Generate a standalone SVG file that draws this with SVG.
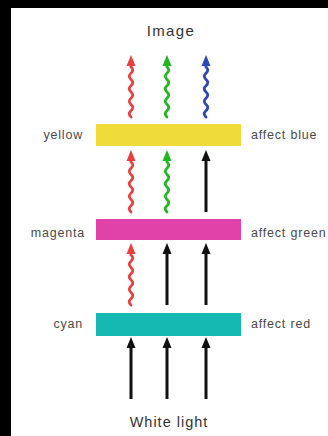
<svg xmlns="http://www.w3.org/2000/svg" xmlns:xlink="http://www.w3.org/1999/xlink" width="328" height="436" viewBox="0 0 328 436">
<style>
.lbl{font-family:"Liberation Sans",Arial,sans-serif;font-size:12.5px;fill:#4a4a4a;letter-spacing:0.8px}
.ttl{font-family:"Liberation Sans",Arial,sans-serif;font-size:15px;fill:#333;letter-spacing:1.4px}
.red{color:#e8403f}.green{color:#1fb81f}.blue{color:#2a46b8}.black{color:#111}
</style>
<defs>
<g id="wave">
<path d="M0,9 l0,3 q3.5,3.1 0,6.25 q-3.5,3.1 0,6.25 q3.5,3.1 0,6.25 q-3.5,3.1 0,6.25 q3.5,3.1 0,6.25 q-3.5,3.1 0,6.25 q3.5,3.1 0,6.25 q-3.5,3.1 0,6.25" fill="none" stroke="currentColor" stroke-width="2.8" stroke-linecap="round"/>
<path d="M0,0 L4.5,11 L-4.5,11 Z" fill="currentColor"/>
</g>
<g id="straight">
<path d="M0,9 V62" fill="none" stroke="currentColor" stroke-width="3"/>
<path d="M0,0 L4.5,11 L-4.5,11 Z" fill="currentColor"/>
</g>
</defs>
<rect x="0" y="0" width="328" height="436" fill="#000"/>
<rect x="11" y="8" width="317" height="428" fill="#fff"/>
<g id="title"><text class="ttl" x="171" y="36" text-anchor="middle">Image</text></g>
<g id="source"><text class="ttl" x="169" y="427" text-anchor="middle" style="font-size:14.5px;letter-spacing:1px">White light</text></g>
<g id="yellow-filter">
<rect x="96" y="124" width="145" height="22" fill="#efdc3a"/>
<text class="lbl" x="83" y="139" text-anchor="end">yellow</text>
<text class="lbl" x="251" y="139">affect blue</text>
</g>
<g id="magenta-filter">
<rect x="96" y="219" width="145" height="21" fill="#e042aa"/>
<text class="lbl" x="85" y="237" text-anchor="end">magenta</text>
<text class="lbl" x="251" y="237">affect green</text>
</g>
<g id="cyan-filter">
<rect x="96" y="313" width="145" height="23" fill="#16b9b2"/>
<text class="lbl" x="83" y="328" text-anchor="end">cyan</text>
<text class="lbl" x="251" y="328">affect red</text>
</g>
<g id="connectors">
<use xlink:href="#wave" class="red" x="131" y="55"/>
<use xlink:href="#wave" class="green" x="167" y="55"/>
<use xlink:href="#wave" class="blue" x="206" y="55"/>
<use xlink:href="#wave" class="red" x="131" y="150"/>
<use xlink:href="#wave" class="green" x="167" y="150"/>
<use xlink:href="#straight" class="black" x="206" y="150"/>
<use xlink:href="#wave" class="red" x="131" y="243"/>
<use xlink:href="#straight" class="black" x="167" y="243"/>
<use xlink:href="#straight" class="black" x="206" y="243"/>
<use xlink:href="#straight" class="black" x="131" y="337"/>
<use xlink:href="#straight" class="black" x="167" y="337"/>
<use xlink:href="#straight" class="black" x="206" y="337"/>
</g>
</svg>
